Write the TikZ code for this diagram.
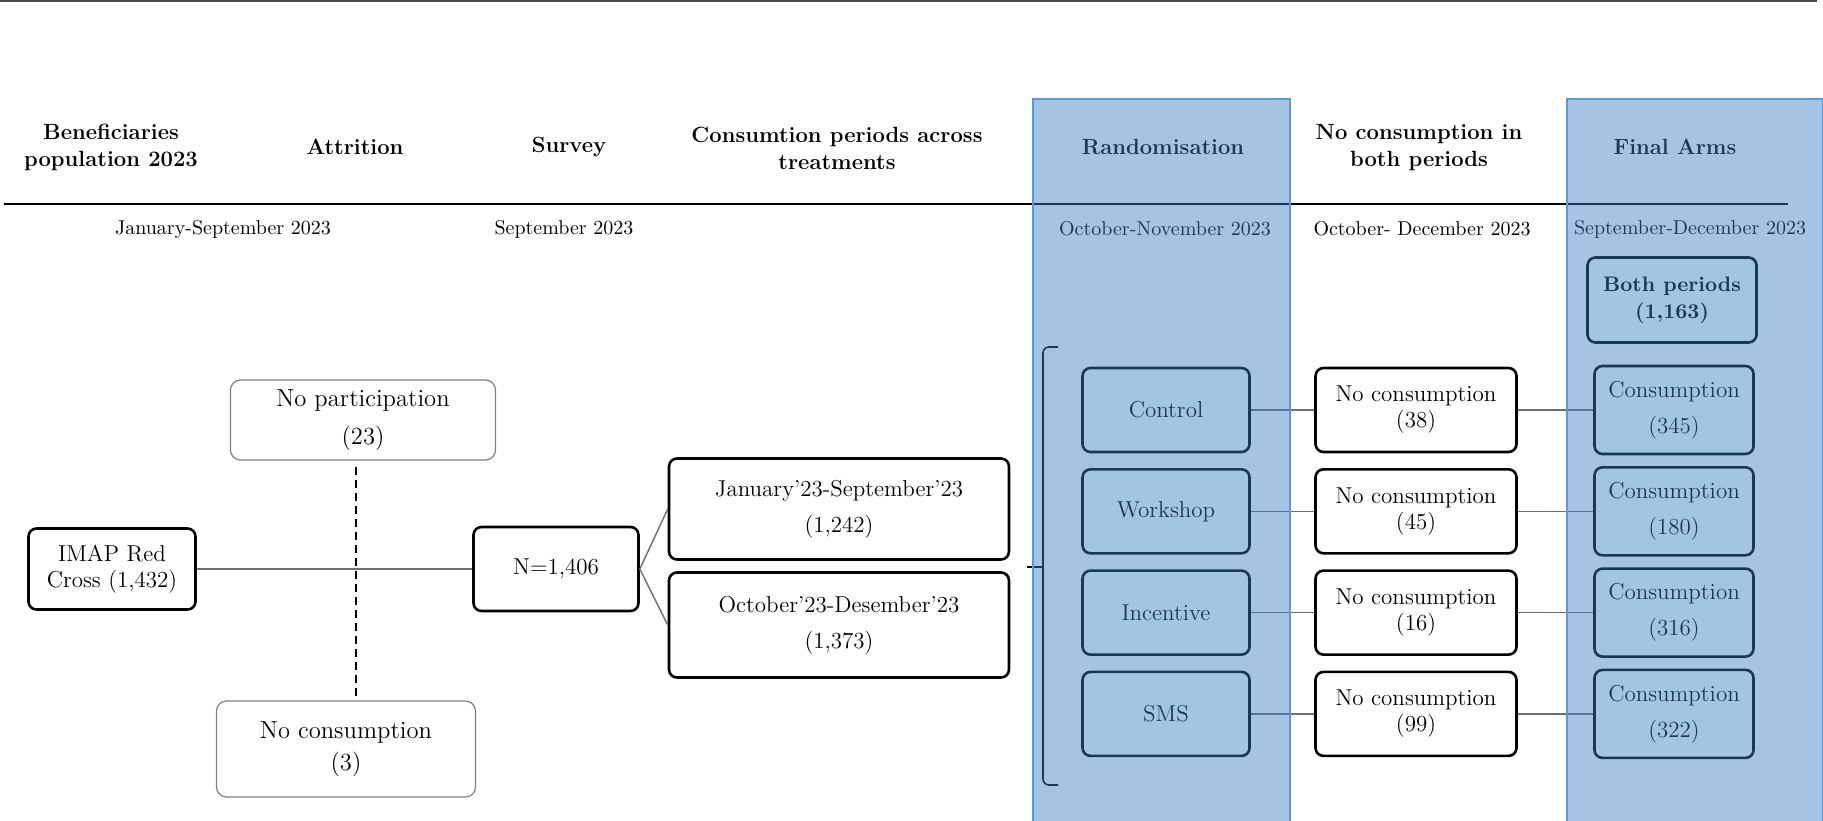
\documentclass[tikz,border=0pt]{standalone}
\usepackage{tikz}
\usetikzlibrary{arrows.meta}

\definecolor{colfill}{RGB}{55,125,195}
\definecolor{colline}{RGB}{91,155,213}
\definecolor{linkgray}{RGB}{110,110,110}

\begin{document}
\begin{tikzpicture}[x=0.5pt, y=-0.5pt,
    box/.style={draw, line width=1.3pt, rounded corners=4pt, fill=white, align=center, inner sep=0pt, font=\fontsize{11.5}{13}\selectfont},
    softbox/.style={draw=gray, line width=0.6pt, rounded corners=5pt, fill=white, align=center, inner sep=0pt, font=\fontsize{12.3}{14}\selectfont},
    head/.style={font=\bfseries\fontsize{11}{13.5}\selectfont, align=center},
    period/.style={font=\fontsize{10}{12}\selectfont},
    link/.style={linkgray, line width=0.7pt}]
    \useasboundingbox (0,0) rectangle (1823,820);
    \def\rowstep{101.3} % distance between arms

    % top line and rule under the headers
    \draw[gray!60!black, line width=1pt] (0,1) -- (1817,1);
    \draw[line width=1.3pt] (4,204) -- (1788,204);

    % column headers
    \node[head] (h1) at (111,147) {Beneficiaries\\population 2023};
    \node[head] (h2) at (355,147) {Attrition};
    \node[head] (h3) at (569,147) {Survey};
    \node[head] (h4) at (837,148) {Consumtion periods across\\treatments};
    \node[head] (h5) at (1163,147) {Randomisation};
    \node[head] (h6) at (1419,148) {No consumption in\\both periods};
    \node[head] (h7) at (1675,147) {Final Arms};

    % periods
    \node[period] (d1) at (223,229) {January-September 2023};
    \node[period] (d2) at (564,229) {September 2023};
    \node[period] (d3) at (1165,229) {October-November 2023};
    \node[period] (d4) at (1422,229) {October- December 2023};
    \node[period] (d5) at (1690,229) {September-December 2023};

    % population, attrition and survey
    \node[box, minimum width=83.5pt, minimum height=40.5pt] (imap) at (112,569) {IMAP Red\\Cross (1,432)};
    \node[softbox, minimum width=132.5pt, minimum height=40pt] (nopart) at (363,420) {No participation\\[5pt](23)};
    \node[softbox, minimum width=129.5pt, minimum height=48pt] (nocons) at (346,749) {No consumption\\[2pt](3)};
    \node[box, minimum width=82.5pt, minimum height=42pt] (surv) at (556,569) {N=1,406};
    \coordinate (att) at (356,569);

    \draw[link] (imap.east) -- (surv.west);
    \draw[line width=1pt, dash pattern=on 4pt off 2.5pt, shorten <=3pt] (att |- nopart.south) -- (att |- nocons.north);

    % consumption periods
    \node[box, minimum width=170pt, minimum height=50.5pt] (jan) at (839,509) {January'23-September'23\\[5pt](1,242)};
    \node[box, minimum width=170pt, minimum height=52.5pt] (oct) at (839,625) {October'23-Desember'23\\[5pt](1,373)};
    \draw[link] (surv.east) -- (jan.west);
    \draw[link] (surv.east) -- (oct.west);

    % bracket
    \coordinate (bt) at (1058,347);
    \coordinate (bb) at (1058,785);
    \coordinate (bm) at (1027,567);
    \draw[line width=0.8pt, rounded corners=3pt] (bt) -- (1043,347) -- (1043,785) -- (bb);
    \draw[line width=0.8pt] (bm) -- (1043,567);

    % arms
    \node[box, minimum width=84.5pt, minimum height=42.5pt, font=\bfseries\fontsize{10.5}{13.5}\selectfont] (both) at (1672,300) {Both periods\\(1,163)};
    \foreach \arm/\nn/\cc [count=\i] in {Control/38/345, Workshop/45/180, Incentive/16/316, SMS/99/322} {
        \node[box, minimum width=83.5pt, minimum height=42pt] (R\i) at (1166, {308.7+\rowstep*\i}) {\arm};
        \node[box, minimum width=100.5pt, minimum height=42pt] (NC\i) at (1416, {308.7+\rowstep*\i}) {No consumption\\(\nn)};
        \node[box, minimum width=79.5pt, minimum height=44pt] (C\i) at (1674, {308.7+\rowstep*\i}) {Consumption\\[5pt](\cc)};
        \draw[link] (R\i) -- (NC\i);
        \draw[link] (NC\i) -- (C\i);
    }

    % blue columns over the picture
    \draw[colline, line width=1pt, fill=colfill, fill opacity=0.45] (1033,99) rectangle (1290,822);
    \draw[colline, line width=1pt, fill=colfill, fill opacity=0.45] (1567,99) rectangle (1823,822);
\end{tikzpicture}
\end{document}
